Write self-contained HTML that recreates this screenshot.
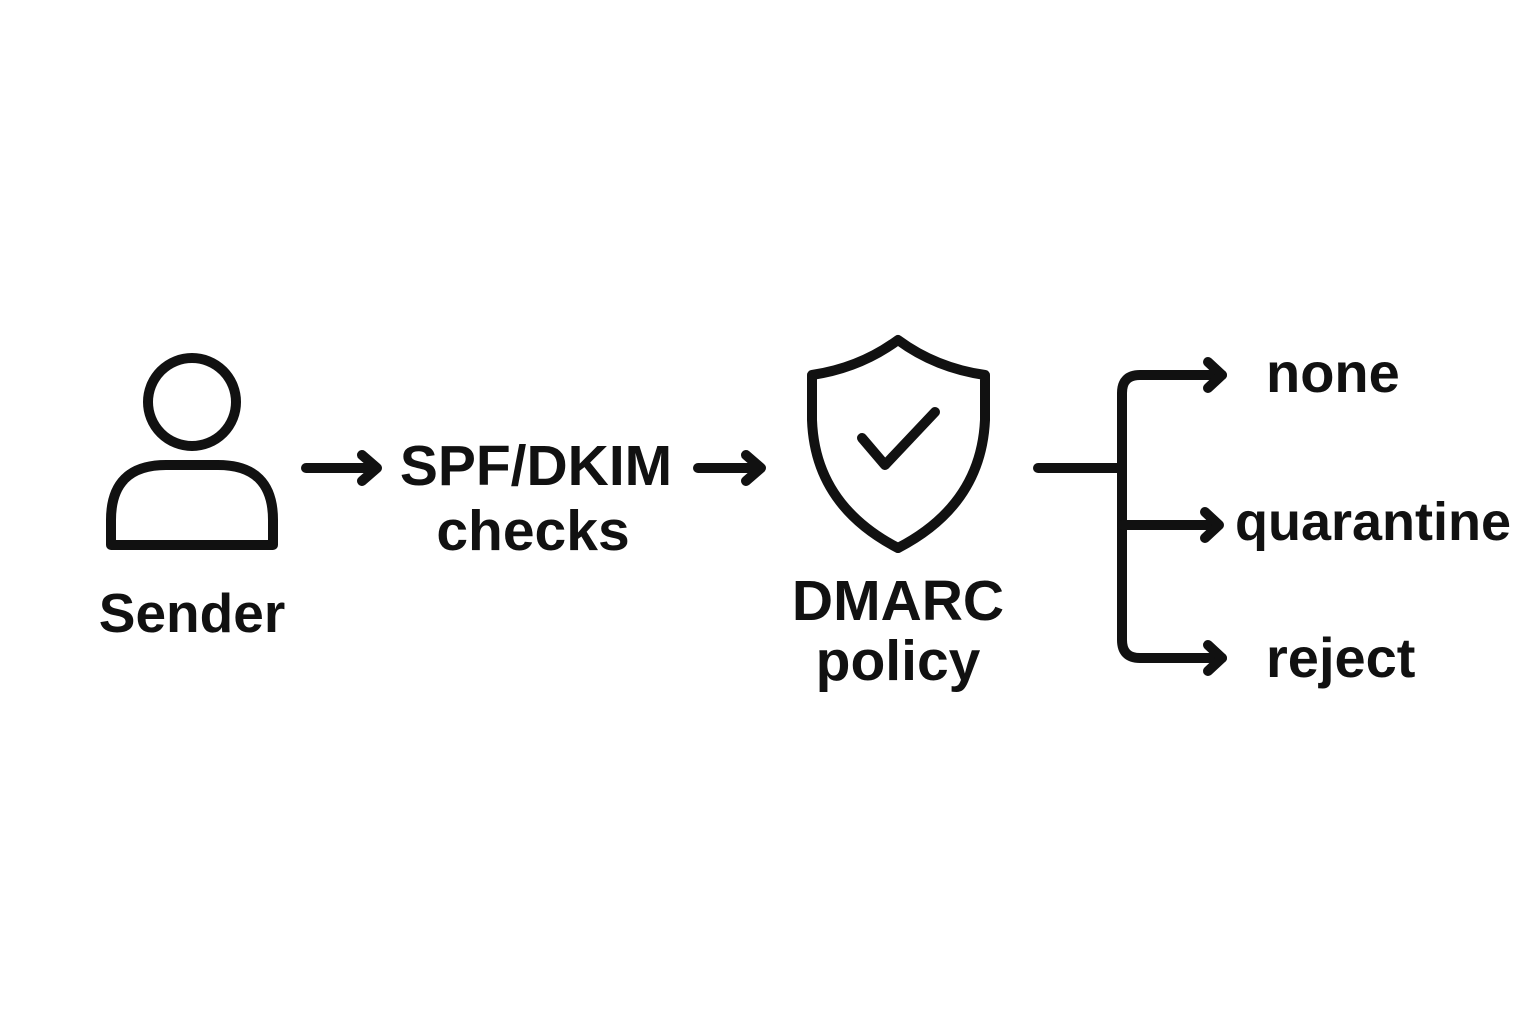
<!DOCTYPE html>
<html><head><meta charset="utf-8"><style>
html,body{margin:0;padding:0;background:#fff;}
svg{display:block;}
text{font-family:"Liberation Sans",sans-serif;font-weight:bold;fill:#111;}
</style></head><body>
<svg width="1536" height="1024" viewBox="0 0 1536 1024" xmlns="http://www.w3.org/2000/svg">
<g fill="none" stroke="#111" stroke-width="10" stroke-linecap="round" stroke-linejoin="round">
<circle cx="192" cy="402" r="44"/>
<path d="M111 545 L111 520 Q111 465 166 465 L218 465 Q273 465 273 520 L273 545 Z"/>
<path d="M306 468 L376 468 M362 455 L377 468 L362 481"/>
<path d="M698 468 L760 468 M746 455 L761 468 L746 481"/>
<path d="M898 340 Q860 368 812 375 L812 420 Q815 505 898 548 Q981 505 985 420 L985 375 Q936 368 898 340 Z"/>
<path d="M862 438 L885 465 L935 412"/>
<path d="M1038 468 L1122 468"/>
<path d="M1222 375 L1140 375 Q1122 375 1122 393 L1122 640 Q1122 658 1140 658 L1222 658"/>
<path d="M1122 525 L1218 525"/>
<path d="M1208 362 L1222 375 L1208 388"/>
<path d="M1205 512 L1219 525 L1205 538"/>
<path d="M1208 645 L1222 658 L1208 671"/>
</g>
<text x="192" y="632" font-size="55" text-anchor="middle">Sender</text>
<text x="536" y="485" font-size="57" text-anchor="middle">SPF/DKIM</text>
<text x="533" y="550" font-size="57" text-anchor="middle">checks</text>
<text x="898" y="620" font-size="57" text-anchor="middle">DMARC</text>
<text x="898" y="680" font-size="57" text-anchor="middle">policy</text>
<text x="1266" y="392" font-size="56">none</text>
<text x="1235" y="540" font-size="54">quarantine</text>
<text x="1266" y="677" font-size="56">reject</text>
</svg>
</body></html>
